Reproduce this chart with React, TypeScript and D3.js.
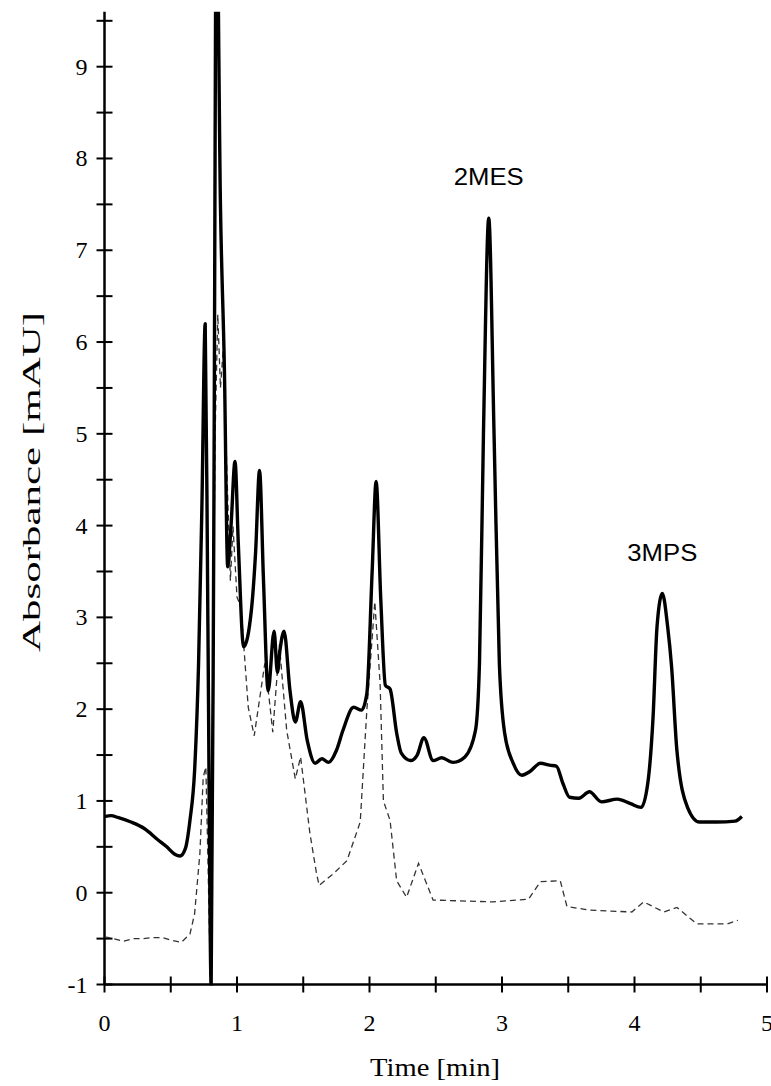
import React, { useRef, useEffect } from 'react';
import * as d3 from 'd3';

// [time (min), absorbance (mAU)]
const solidTrace: [number, number][] = [
  [0.0, 0.83], [0.05, 0.84], [0.1, 0.82], [0.2, 0.77], [0.3, 0.7], [0.4, 0.58],
  [0.47, 0.5], [0.53, 0.42], [0.57, 0.4], [0.61, 0.48], [0.645, 0.79], [0.68, 1.33],
  [0.71, 2.5], [0.735, 4.2], [0.76, 6.2], [0.78, 3.0], [0.805, -1.0], [0.825, 4.0],
  [0.845, 11.0], [0.875, 7.5], [0.905, 5.7], [0.93, 3.55], [0.955, 4.0], [0.985, 4.7],
  [1.01, 3.8], [1.05, 2.68], [1.11, 3.1], [1.14, 3.7], [1.17, 4.6], [1.2, 3.4],
  [1.235, 2.2], [1.28, 2.85], [1.305, 2.4], [1.325, 2.65], [1.355, 2.85], [1.4, 2.2],
  [1.44, 1.86], [1.48, 2.08], [1.53, 1.66], [1.59, 1.41], [1.64, 1.46], [1.69, 1.42],
  [1.75, 1.55], [1.8, 1.77], [1.88, 2.02], [1.94, 1.99], [1.98, 2.17], [2.02, 3.5],
  [2.05, 4.48], [2.085, 3.2], [2.12, 2.26], [2.155, 2.22], [2.205, 1.74], [2.24, 1.52],
  [2.31, 1.44], [2.36, 1.5], [2.41, 1.69], [2.48, 1.44], [2.545, 1.47], [2.63, 1.42],
  [2.72, 1.48], [2.8, 1.77], [2.83, 2.5], [2.86, 5.0], [2.9, 7.35], [2.94, 5.0],
  [2.98, 2.5], [3.02, 1.74], [3.085, 1.41], [3.15, 1.28], [3.21, 1.32], [3.29, 1.41],
  [3.36, 1.39], [3.41, 1.38], [3.46, 1.19], [3.51, 1.04], [3.58, 1.03], [3.66, 1.1],
  [3.75, 0.99], [3.87, 1.02], [3.97, 0.97], [4.05, 0.93], [4.1, 1.19], [4.14, 1.91],
  [4.17, 2.9], [4.21, 3.26], [4.25, 2.9], [4.28, 2.46], [4.32, 1.55], [4.4, 0.93],
  [4.49, 0.77], [4.62, 0.77], [4.76, 0.78], [4.81, 0.83],
];

const dashedTrace: [number, number][] = [
  [0.0, -0.48], [0.07, -0.5], [0.14, -0.53], [0.22, -0.5], [0.29, -0.5], [0.36, -0.49],
  [0.44, -0.49], [0.51, -0.52], [0.58, -0.54], [0.645, -0.45], [0.68, -0.23], [0.72, 0.43],
  [0.745, 1.26], [0.765, 1.37], [0.78, 0.4], [0.8, -1.0], [0.815, 2.0], [0.835, 5.0],
  [0.855, 6.3], [0.875, 5.5], [0.895, 5.9], [0.95, 3.4], [0.97, 3.99], [1.0, 3.22],
  [1.03, 3.11], [1.085, 2.02], [1.13, 1.71], [1.21, 2.5], [1.24, 2.15], [1.27, 1.75],
  [1.32, 2.7], [1.375, 1.77], [1.44, 1.24], [1.48, 1.48], [1.55, 0.65], [1.6, 0.21],
  [1.62, 0.08], [1.73, 0.21], [1.83, 0.35], [1.93, 0.77], [1.98, 1.99], [2.04, 3.17],
  [2.08, 2.28], [2.105, 1.0], [2.155, 0.79], [2.205, 0.13], [2.28, -0.05], [2.37, 0.32],
  [2.48, -0.08], [2.93, -0.1], [3.2, -0.07], [3.29, 0.12], [3.44, 0.13], [3.49, -0.15],
  [3.66, -0.19], [3.98, -0.21], [4.07, -0.1], [4.22, -0.21], [4.32, -0.16], [4.47, -0.34],
  [4.7, -0.34], [4.78, -0.3],
];

const xTickLabels = [0, 1, 2, 3, 4, 5];
const yTickLabels = [-1, 0, 1, 2, 3, 4, 5, 6, 7, 8, 9];
const peakLabels = [
  { name: '2MES', t: 2.9, baseline: 185 },
  { name: '3MPS', t: 4.21, baseline: 561 },
];

const App = () => {
  const svgRef = useRef<SVGSVGElement>(null);

  useEffect(() => {
    const svg = d3.select(svgRef.current);
    svg.selectAll('*').remove();

    const x = d3.scaleLinear().domain([0, 5]).range([104.5, 767]);
    const y = d3.scaleLinear().domain([-1, 9]).range([984.5, 66.7]);
    const yTop = y(9.6);

    svg.append('defs').append('clipPath').attr('id', 'plotclip')
      .append('rect')
      .attr('x', x(0)).attr('y', yTop)
      .attr('width', 771 - x(0)).attr('height', y(-1) - yTop + 1);

    // axes
    svg.append('line')
      .attr('x1', x(0)).attr('x2', x(0))
      .attr('y1', yTop).attr('y2', y(-1))
      .attr('stroke', '#000').attr('stroke-width', 2.5);
    svg.append('line')
      .attr('x1', x(0)).attr('x2', x(5))
      .attr('y1', y(-1)).attr('y2', y(-1))
      .attr('stroke', '#000').attr('stroke-width', 2.5);

    // ticks every 0.5, crossing the axis
    const yTicks = d3.range(-1, 9.51, 0.5);
    svg.append('g').selectAll('line').data(yTicks).join('line')
      .attr('x1', x(0) - 8).attr('x2', x(0) + 8)
      .attr('y1', d => y(d)).attr('y2', d => y(d))
      .attr('stroke', '#000').attr('stroke-width', 2);
    const xTicks = d3.range(0, 5.01, 0.5);
    svg.append('g').selectAll('line').data(xTicks).join('line')
      .attr('x1', d => x(d)).attr('x2', d => x(d))
      .attr('y1', y(-1) - 8).attr('y2', y(-1) + 8)
      .attr('stroke', '#000').attr('stroke-width', 2);

    const serif = "'Liberation Serif', 'Times New Roman', Times, serif";

    svg.append('g').selectAll('text').data(yTickLabels).join('text')
      .attr('x', x(0) - 17)
      .attr('y', d => y(d) + 8)
      .attr('text-anchor', 'end')
      .style('font-family', serif)
      .style('font-size', '24px')
      .text(d => String(d));

    svg.append('g').selectAll('text').data(xTickLabels).join('text')
      .attr('x', d => x(d))
      .attr('y', 1031)
      .attr('text-anchor', 'middle')
      .style('font-family', serif)
      .style('font-size', '24px')
      .text(d => String(d));

    svg.append('text')
      .attr('x', 435).attr('y', 1076)
      .attr('text-anchor', 'middle')
      .style('font-family', serif)
      .style('font-size', '25px')
      .attr('textLength', 130)
      .attr('lengthAdjust', 'spacingAndGlyphs')
      .text('Time [min]');

    svg.append('text')
      .attr('transform', 'translate(40,482) rotate(-90)')
      .attr('text-anchor', 'middle')
      .style('font-family', serif)
      .style('font-size', '25px')
      .attr('textLength', 340)
      .attr('lengthAdjust', 'spacingAndGlyphs')
      .text('Absorbance [mAU]');

    const plot = svg.append('g').attr('clip-path', 'url(#plotclip)');

    const dashedLine = d3.line<[number, number]>()
      .x(d => x(d[0]))
      .y(d => y(d[1]));
    plot.append('path')
      .datum(dashedTrace)
      .attr('fill', 'none')
      .attr('stroke', '#333')
      .attr('stroke-width', 1.3)
      .attr('stroke-dasharray', '6,4')
      .attr('d', dashedLine);

    const solidLine = d3.line<[number, number]>()
      .x(d => x(d[0]))
      .y(d => y(d[1]))
      .curve(d3.curveMonotoneX);
    plot.append('path')
      .datum(solidTrace)
      .attr('fill', 'none')
      .attr('stroke', '#000')
      .attr('stroke-width', 3.4)
      .attr('stroke-linejoin', 'round')
      .attr('d', solidLine);

    // peak names
    svg.append('g').selectAll('text').data(peakLabels).join('text')
      .attr('x', d => x(d.t))
      .attr('y', d => d.baseline)
      .attr('text-anchor', 'middle')
      .style('font-family', "'Liberation Sans', Arial, sans-serif")
      .style('font-size', '23px')
      .attr('textLength', 70)
      .attr('lengthAdjust', 'spacingAndGlyphs')
      .text(d => d.name);
  }, []);

  return (
    <svg
      ref={svgRef}
      width={771}
      height={1086}
      style={{ position: 'absolute', left: 0, top: 0, background: '#fff' }}
    />
  );
};

export default App;
